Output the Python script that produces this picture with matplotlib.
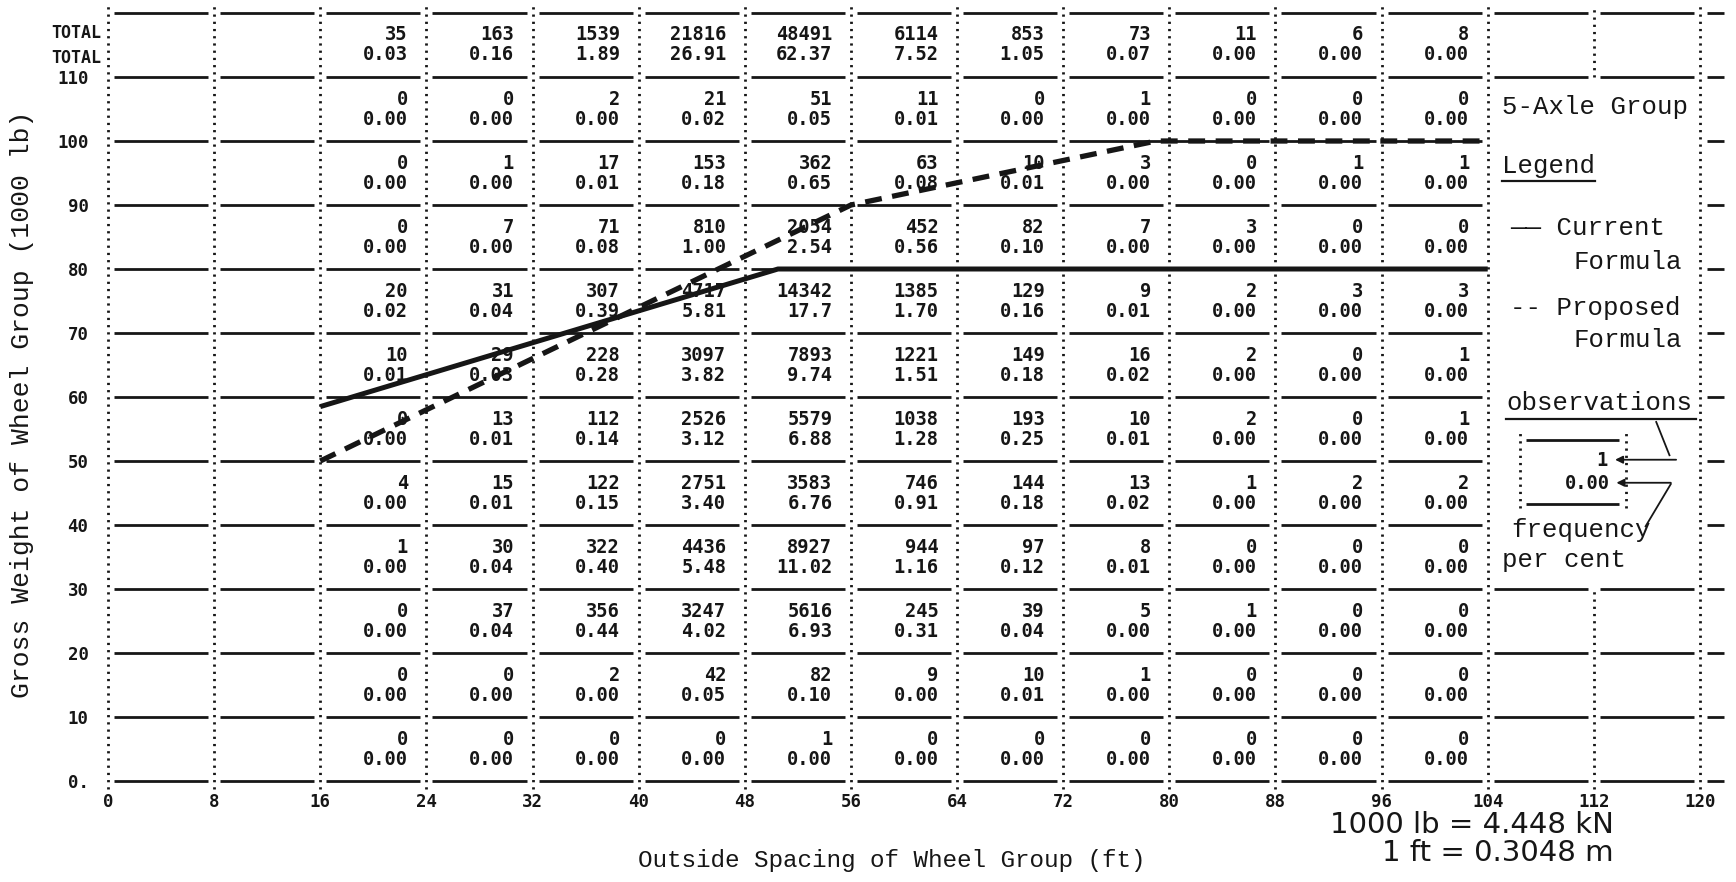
import matplotlib.pyplot as plt

plt.rcParams['font.family'] = ['DejaVu Sans']

# axis ticks (ft across, 1000 lb up)
spacing_ticks = list(range(0, 121, 8))
weight_ticks = list(range(0, 111, 10))
weight_labels = ['0.'] + [str(v) for v in weight_ticks[1:]]

# table cells: columns start at 16 ft, rows listed from the 100-110 band downward
col_starts = list(range(16, 104, 8))
row_starts = list(range(100, -1, -10))

total_counts = [35, 163, 1539, 21816, 48491, 6114, 853, 73, 11, 6, 8]
total_pcts = ['0.03', '0.16', '1.89', '26.91', '62.37', '7.52', '1.05', '0.07', '0.00', '0.00', '0.00']

counts = [
    [0, 0, 2, 21, 51, 11, 0, 1, 0, 0, 0],
    [0, 1, 17, 153, 362, 63, 10, 3, 0, 1, 1],
    [0, 7, 71, 810, 2054, 452, 82, 7, 3, 0, 0],
    [20, 31, 307, 4717, 14342, 1385, 129, 9, 2, 3, 3],
    [10, 29, 228, 3097, 7893, 1221, 149, 16, 2, 0, 1],
    [0, 13, 112, 2526, 5579, 1038, 193, 10, 2, 0, 1],
    [4, 15, 122, 2751, 3583, 746, 144, 13, 1, 2, 2],
    [1, 30, 322, 4436, 8927, 944, 97, 8, 0, 0, 0],
    [0, 37, 356, 3247, 5616, 245, 39, 5, 1, 0, 0],
    [0, 0, 2, 42, 82, 9, 10, 1, 0, 0, 0],
    [0, 0, 0, 0, 1, 0, 0, 0, 0, 0, 0],
]

pcts = [
    ['0.00', '0.00', '0.00', '0.02', '0.05', '0.01', '0.00', '0.00', '0.00', '0.00', '0.00'],
    ['0.00', '0.00', '0.01', '0.18', '0.65', '0.08', '0.01', '0.00', '0.00', '0.00', '0.00'],
    ['0.00', '0.00', '0.08', '1.00', '2.54', '0.56', '0.10', '0.00', '0.00', '0.00', '0.00'],
    ['0.02', '0.04', '0.39', '5.81', '17.7', '1.70', '0.16', '0.01', '0.00', '0.00', '0.00'],
    ['0.01', '0.03', '0.28', '3.82', '9.74', '1.51', '0.18', '0.02', '0.00', '0.00', '0.00'],
    ['0.00', '0.01', '0.14', '3.12', '6.88', '1.28', '0.25', '0.01', '0.00', '0.00', '0.00'],
    ['0.00', '0.01', '0.15', '3.40', '6.76', '0.91', '0.18', '0.02', '0.00', '0.00', '0.00'],
    ['0.00', '0.04', '0.40', '5.48', '11.02', '1.16', '0.12', '0.01', '0.00', '0.00', '0.00'],
    ['0.00', '0.04', '0.44', '4.02', '6.93', '0.31', '0.04', '0.00', '0.00', '0.00', '0.00'],
    ['0.00', '0.00', '0.00', '0.05', '0.10', '0.00', '0.01', '0.00', '0.00', '0.00', '0.00'],
    ['0.00', '0.00', '0.00', '0.00', '0.00', '0.00', '0.00', '0.00', '0.00', '0.00', '0.00'],
]

# gross weight limit curves
current_ft = [16, 50.5, 104]
current_kip = [58.5, 80, 80]
proposed_ft = [16, 56, 79, 104]
proposed_kip = [50, 90, 100, 100]

ink = '#161616'
num_font = dict(family='DejaVu Sans Mono', weight='bold', size=13.5, color=ink)
type_font = dict(family='Liberation Mono', size=18.5, color=ink)

fig = plt.figure(figsize=(17.36, 8.82), dpi=100)
ax = fig.add_axes([108 / 1736, 101 / 882, 1592 / 1736, 768 / 882])
ax.set_xlim(0, 120)
ax.set_ylim(0, 120)
for s in ax.spines.values():
    s.set_visible(False)

ax.set_xticks(spacing_ticks, [str(t) for t in spacing_ticks])
ax.set_yticks(weight_ticks, weight_labels)
ax.tick_params(axis='x', length=0, pad=8.5)
ax.tick_params(axis='y', length=0, pad=14)
for lbl in ax.get_xticklabels() + ax.get_yticklabels():
    lbl.set_fontfamily('DejaVu Sans Mono')
    lbl.set_fontweight('bold')
    lbl.set_fontsize(12.5)
    lbl.set_color(ink)

# dotted column rules
dots = (0, (0.8, 1.8))
for x in spacing_ticks:
    if x == 112:
        ax.vlines(x, -1.2, 30, colors=ink, lw=2, linestyles=dots, clip_on=False)
        ax.vlines(x, 110, 121.2, colors=ink, lw=2, linestyles=dots, clip_on=False)
    else:
        ax.vlines(x, -1.2, 121.2, colors=ink, lw=2, linestyles=dots, clip_on=False)

# solid row rules, broken at every column rule
for level in range(0, 121, 10):
    for c0 in range(0, 120, 8):
        if c0 >= 104 and 30 < level < 110:
            continue
        ax.hlines(level, c0 + 0.45, c0 + 7.55, colors=ink, lw=2, clip_on=False)
    ax.hlines(level, 120.5, 121.8, colors=ink, lw=2, clip_on=False)

# cell entries: count above, per cent below
for i, r0 in enumerate(row_starts):
    for j, c0 in enumerate(col_starts):
        ax.text(c0 + 8 - 1.4, r0 + 6.5, str(counts[i][j]), ha='right', va='center', **num_font)
        ax.text(c0 + 8 - 1.4, r0 + 3.3, pcts[i][j], ha='right', va='center', **num_font)
for j, c0 in enumerate(col_starts):
    ax.text(c0 + 8 - 1.4, 116.7, str(total_counts[j]), ha='right', va='center', **num_font)
    ax.text(c0 + 8 - 1.4, 113.5, total_pcts[j], ha='right', va='center', **num_font)
for yv in (116.8, 112.9):
    ax.text(-0.5, yv, 'TOTAL', ha='right', va='center', clip_on=False,
            **dict(num_font, size=12))

ax.plot(current_ft, current_kip, color=ink, lw=3.6, solid_capstyle='butt', zorder=5)
ax.plot(proposed_ft, proposed_kip, color=ink, lw=3.8, ls=(0, (3.2, 2)), zorder=5)

# legend block at the right
ax.text(105.1, 105.3, '5-Axle Group', ha='left', va='center', **type_font)
ax.text(105.1, 96.1, 'Legend', ha='left', va='center', **type_font)
ax.plot([105.1, 112.1], [93.7, 93.7], color=ink, lw=1.6)
ax.text(105.7, 86.4, '\u2014\u2014 Current', ha='left', va='center', **type_font)
ax.text(110.5, 81.1, 'Formula', ha='left', va='center', **type_font)
ax.text(105.7, 73.9, '-- Proposed', ha='left', va='center', **type_font)
ax.text(110.5, 68.9, 'Formula', ha='left', va='center', **type_font)
ax.text(105.4, 59.1, 'observations', ha='left', va='center', **type_font)
ax.plot([105.4, 119.7], [56.6, 56.6], color=ink, lw=1.6)
ax.text(105.8, 39.2, 'frequency', ha='left', va='center', **type_font)
ax.text(105.1, 34.5, 'per cent', ha='left', va='center', **type_font)

# sample cell with pointers
ax.vlines([106.4, 114.4], 42.7, 54.4, colors=ink, lw=2, linestyles=dots)
ax.hlines([53.3, 43.3], 106.9, 113.9, colors=ink, lw=2)
ax.text(113.0, 50.0, '1', ha='right', va='center', **num_font)
ax.text(113.2, 46.5, '0.00', ha='right', va='center', **num_font)
arrow = dict(arrowstyle='-|>', lw=1.3, color=ink, mutation_scale=11, shrinkA=0, shrinkB=0)
ax.annotate('', xy=(113.6, 50.2), xytext=(118.2, 50.2), arrowprops=arrow)
ax.annotate('', xy=(113.7, 46.6), xytext=(117.8, 46.6), arrowprops=arrow)
ax.plot([116.7, 117.7], [56.1, 50.9], color=ink, lw=1.3)
ax.plot([117.8, 115.9], [46.4, 39.8], color=ink, lw=1.3)

fig.text(892 / 1736, 1 - 860 / 882, 'Outside Spacing of Wheel Group (ft)',
         ha='center', va='center', family='Liberation Mono', size=17.5, color=ink)
fig.text(22 / 1736, 1 - 404 / 882, 'Gross Weight of Wheel Group (1000 lb)',
         ha='center', va='center', rotation=90, family='Liberation Mono', size=19, color=ink)
fig.text(1614 / 1736, 1 - 825 / 882, '1000 lb = 4.448 kN', ha='right', va='center',
         family='DejaVu Sans', size=21, color=ink)
fig.text(1614 / 1736, 1 - 853 / 882, '1 ft = 0.3048 m', ha='right', va='center',
         family='DejaVu Sans', size=21, color=ink)

fig.savefig('out.png', dpi=100, facecolor='white')
